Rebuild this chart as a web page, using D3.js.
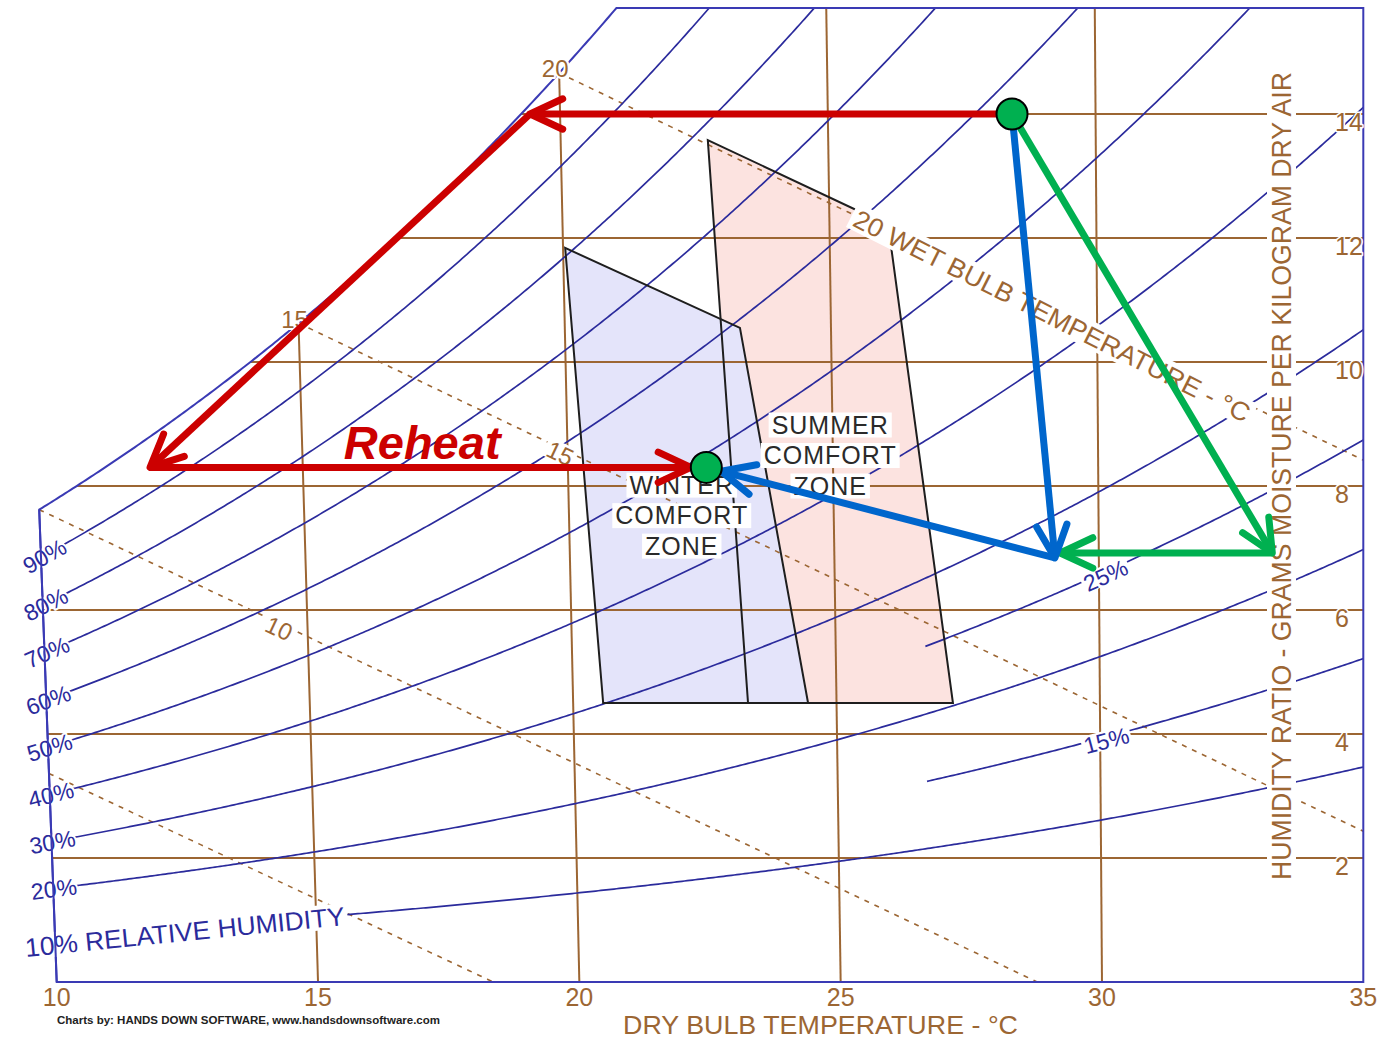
<!DOCTYPE html>
<html><head><meta charset="utf-8">
<script src="https://cdn.jsdelivr.net/npm/d3@7"></script>
<style>body{margin:0;background:#fff}svg{display:block}</style>
</head><body>
<svg id="c" width="1380" height="1041"></svg>
<script>
// ---------------- data ----------------
const dryBulbTicks = [10, 15, 20, 25, 30, 35];
const dryBulbLines = [15, 20, 25, 30];
const humidityTicks = [2, 4, 6, 8, 10, 12, 14];
const rhFull = [0.2, 0.3, 0.4, 0.5, 0.6, 0.7, 0.8, 0.9];
const rhFullLabels = ["20%", "30%", "40%", "50%", "60%", "70%", "80%", "90%"];
const rhTen = 0.10;
const rhTenLabel = "10% RELATIVE HUMIDITY";
const rhPartial = [0.15, 0.25];
const rhPartialLabels = ["15%", "25%"];
const rhPartialStartT = 26.7;
const rhPartialLabelT = 30.1;
const wetBulbs = [5, 10, 15, 20];
const wetBulbSatLabels = [15, 20];
const wetBulbMidLabels = [10, 15];
const wetBulbMidLabelT = [14.5, 19.9];
const wetBulbTitle = "20 WET BULB TEMPERATURE - °C";
const wetBulbTitleT = 25.5;
// comfort zones (dry bulb °C, humidity ratio g/kg)
const summerZone = [[22.75, 13.58], [26.10, 12.21], [27.21, 4.5], [23.32, 4.5]];
const winterZone = [[20.04, 11.84], [23.29, 10.55], [24.46, 4.5], [20.57, 4.5]];
const summerLabel = ["SUMMER", "COMFORT", "ZONE"];
const winterLabel = ["WINTER", "COMFORT", "ZONE"];
const summerLabelAt = [24.95, 8.5];
const winterLabelAt = [22.13, 7.53];
// process states
const stateOutdoor = [28.44, 14.0];
const stateRoom = [22.61, 8.3];
const redPath = [stateOutdoor, [19.44, 14.0], [12.12, 8.3], stateRoom];
const bluePath = [stateOutdoor, [29.17, 6.84], stateRoom];
const greenPath = [stateOutdoor, [33.28, 6.92], [29.27, 6.92]];
const reheatLabel = "Reheat";

// ---------------- psychrometrics ----------------
const P = 101.325;
const ps = T => 0.61094 * Math.exp(17.625 * T / (T + 243.04));
const Wrh = (T, rh) => 622 * rh * ps(T) / (P - rh * ps(T));
const Wwb = (T, Twb) => 1000 * ((2501 - 2.326 * Twb) * (Wrh(Twb, 1) / 1000) - 1.006 * (T - Twb)) / (2501 + 1.86 * T - 4.186 * Twb);
function tSat(W) { let lo = -10, hi = 45; for (let i = 0; i < 60; i++) { const m = (lo + hi) / 2; if (Wrh(m, 1) < W) lo = m; else hi = m; } return (lo + hi) / 2; }

// ---------------- scales ----------------
const X = d3.scaleLinear().domain([10, 35]).range([56.7, 1363.3]);
const Y = d3.scaleLinear().domain([0, 14]).range([982, 114]);
const K = 0.00148;
const pt = (T, W) => { const y = Y(W); return [X(T) - K * (35 - T) * (Y(0) - y), y]; };
const Wtop = Y.invert(8);
const Ttop = tSat(Wtop);
const sample = (t0, t1, f, step = 0.05) => { const a = []; for (let t = t0; t < t1; t += step) a.push(pt(t, f(t))); a.push(pt(t1, f(t1))); return a; };
const angleAt = (t, f) => { const a = pt(t - 0.2, f(t - 0.2)), b = pt(t + 0.2, f(t + 0.2)); return Math.atan2(b[1] - a[1], b[0] - a[0]) * 180 / Math.PI; };

const BROWN = "#9c6633", NAVY = "#2b2b9c", FRAME = "#3a3ab4", FONT = "'Liberation Sans', Arial, sans-serif";
const svg = d3.select("#c");
const line = d3.line();

// frame / clip
const satPts = sample(10, Ttop, t => Wrh(t, 1));
const framePts = [pt(10, 0), pt(35, 0), pt(35, Wtop), ...satPts.slice().reverse()];
svg.append("defs").append("clipPath").attr("id", "clip").append("path").attr("d", line(framePts) + "Z");

// zone fills
const zones = svg.append("g");
zones.append("path").attr("d", line(summerZone.map(d => pt(d[0], d[1]))) + "Z").attr("fill", "#fce3e0");
zones.append("path").attr("d", line(winterZone.map(d => pt(d[0], d[1]))) + "Z").attr("fill", "#e4e4fa");

const grid = svg.append("g").attr("clip-path", "url(#clip)").attr("fill", "none");
dryBulbLines.forEach(T => {
  grid.append("path").attr("d", line([pt(T, 0), pt(T, Math.min(Wtop, Wrh(T, 1)))])).attr("stroke", BROWN).attr("stroke-width", 2);
});
humidityTicks.forEach(W => {
  grid.append("path").attr("d", line([pt(Math.max(10, tSat(W)), W), pt(35, W)])).attr("stroke", BROWN).attr("stroke-width", 2);
});
wetBulbs.forEach(wb => {
  grid.append("path").attr("d", line(sample(Math.max(10, wb), 35, t => Wwb(t, wb))))
    .attr("stroke", BROWN).attr("stroke-width", 1.6).attr("stroke-dasharray", "5,6");
});
rhFull.forEach(rh => {
  grid.append("path").attr("d", line(sample(10.45, 35, t => Wrh(t, rh)))).attr("stroke", NAVY).attr("stroke-width", 1.7);
});
grid.append("path").attr("d", line(sample(15.6, 35, t => Wrh(t, rhTen)))).attr("stroke", NAVY).attr("stroke-width", 1.7);
rhPartial.forEach(rh => {
  grid.append("path").attr("d", line(sample(rhPartialStartT, 35, t => Wrh(t, rh)))).attr("stroke", NAVY).attr("stroke-width", 1.7);
});

// zone outlines
[summerZone, winterZone].forEach(z => {
  svg.append("path").attr("d", line(z.map(d => pt(d[0], d[1]))) + "Z").attr("fill", "none").attr("stroke", "#1e1e1e").attr("stroke-width", 2);
});

// frame
svg.append("path").attr("d", line(framePts) + "Z").attr("fill", "none").attr("stroke", FRAME).attr("stroke-width", 2);

// ---------------- labels ----------------
const halo = (sel, w) => sel.attr("stroke", "#fff").attr("stroke-width", w).attr("paint-order", "stroke").attr("stroke-linejoin", "round");
function boxed(transform, build, padX, padTop, padBot) {
  const g = svg.append("g").attr("transform", transform).attr("font-family", FONT);
  const t = build(g.append("text"));
  const b = t.node().getBBox();
  g.insert("rect", "text").attr("x", b.x - padX).attr("y", b.y + padTop).attr("width", b.width + 2 * padX)
    .attr("height", b.height - padTop - padBot).attr("fill", "#fff");
  return g;
}
const lab = svg.append("g").attr("font-family", FONT);

wetBulbSatLabels.forEach(wb => {
  const p = pt(wb, Wrh(wb, 1));
  halo(lab.append("text").attr("x", p[0] - 4).attr("y", p[1] - 4).attr("dy", "0.35em").attr("text-anchor", "middle")
    .attr("font-size", 24).attr("fill", BROWN).text(wb), 4);
});
wetBulbMidLabels.forEach((wb, i) => {
  const t = wetBulbMidLabelT[i], f = tt => Wwb(tt, wb), p = pt(t, f(t));
  boxed(`translate(${p[0]},${p[1]}) rotate(${angleAt(t, f)})`, s => s.attr("dy", "0.55em").attr("text-anchor", "middle")
    .attr("font-size", 24).attr("fill", BROWN).text(wb), 3, 3, 4);
});
{
  const f = tt => Wwb(tt, 20), p = pt(wetBulbTitleT, f(wetBulbTitleT));
  boxed(`translate(${p[0]},${p[1]}) rotate(${angleAt(wetBulbTitleT, f) + 1})`, s => s.attr("dy", "0.4em")
    .attr("font-size", 26).attr("fill", BROWN).attr("textLength", 440).attr("lengthAdjust", "spacingAndGlyphs").text(wetBulbTitle), 4, 1, 2);
}

rhFull.forEach((rh, i) => {
  const f = t => Wrh(t, rh), p = pt(10.45, f(10.45));
  halo(lab.append("text").attr("transform", `translate(${p[0]},${p[1]}) rotate(${angleAt(10.45, f)})`).attr("dy", "0.38em")
    .attr("text-anchor", "end").attr("font-size", 23).attr("fill", NAVY).text(rhFullLabels[i]), 4);
});
{
  const f = t => Wrh(t, rhTen), p = pt(15.6, f(15.6));
  boxed(`translate(${p[0] - 3},${p[1]}) rotate(${angleAt(15.6, f) - 1})`, s => s.attr("dy", "0.4em")
    .attr("text-anchor", "end").attr("font-size", 26).attr("fill", NAVY).attr("textLength", 321).attr("lengthAdjust", "spacingAndGlyphs").text(rhTenLabel), 2, 2, 3);
}
rhPartial.forEach((rh, i) => {
  const f = t => Wrh(t, rh), p = pt(rhPartialLabelT, f(rhPartialLabelT));
  boxed(`translate(${p[0]},${p[1]}) rotate(${angleAt(rhPartialLabelT, f)})`, s => s.attr("dy", "0.5em")
    .attr("text-anchor", "middle").attr("font-size", 23).attr("fill", NAVY).text(rhPartialLabels[i]), 2, 3, 4);
});

// left border over labels
svg.append("path").attr("d", line([pt(10, 0), pt(10, Wrh(10, 1))])).attr("stroke", FRAME).attr("stroke-width", 2);

// axes
dryBulbTicks.forEach(T => {
  lab.append("text").attr("x", X(T)).attr("y", 1006).attr("text-anchor", "middle").attr("font-size", 25).attr("fill", BROWN).text(T);
});
humidityTicks.forEach(W => {
  halo(lab.append("text").attr("x", 1335).attr("y", Y(W) + 17).attr("font-size", 25).attr("fill", BROWN).text(W), 3);
});
lab.append("text").attr("x", 820.5).attr("y", 1034).attr("text-anchor", "middle").attr("font-size", 25).attr("fill", BROWN)
  .attr("textLength", 395).attr("lengthAdjust", "spacingAndGlyphs").text("DRY BULB TEMPERATURE - °C");
boxed("translate(1291,476) rotate(-90)", s => s.attr("text-anchor", "middle").attr("font-size", 28).attr("fill", BROWN)
  .attr("textLength", 808).attr("lengthAdjust", "spacingAndGlyphs").text("HUMIDITY RATIO - GRAMS MOISTURE PER KILOGRAM DRY AIR"), 3, 1, 1);
lab.append("text").attr("x", 57).attr("y", 1024).attr("font-size", 10).attr("font-weight", "bold").attr("fill", "#222")
  .attr("textLength", 383).attr("lengthAdjust", "spacingAndGlyphs").text("Charts by: HANDS DOWN SOFTWARE, www.handsdownsoftware.com");

// zone labels with white boxes
function zoneLabel(lines, at) {
  const c = pt(at[0], at[1]);
  const g = svg.append("g").attr("font-family", FONT);
  lines.forEach((s, i) => {
    const t = g.append("text").attr("x", c[0]).attr("y", c[1] + (i - 1) * 30.5).attr("dy", "0.36em").attr("text-anchor", "middle")
      .attr("font-size", 25).attr("letter-spacing", 1).attr("fill", "#2a2a2a").text(s);
    const b = t.node().getBBox();
    g.insert("rect", "text").attr("x", b.x - 3).attr("y", b.y + 2).attr("width", b.width + 6).attr("height", b.height - 3).attr("fill", "#fff");
  });
}
zoneLabel(summerLabel, summerLabelAt);
zoneLabel(winterLabel, winterLabelAt);

// ---------------- process arrows ----------------
const R = 15.5;
const ann = svg.append("g");
function arrow(a, b, color, shortEnd) {
  const [x0, y0] = pt(a[0], a[1]), [x1, y1] = pt(b[0], b[1]);
  const ang = Math.atan2(y1 - y0, x1 - x0), c = Math.cos(ang), s = Math.sin(ang);
  const ex = x1 - shortEnd * c, ey = y1 - shortEnd * s;
  ann.append("line").attr("x1", x0).attr("y1", y0).attr("x2", ex - 3 * c).attr("y2", ey - 3 * s)
    .attr("stroke", color).attr("stroke-width", 7);
  const L = 36, sp = 25 * Math.PI / 180;
  const p1 = [ex - L * Math.cos(ang - sp), ey - L * Math.sin(ang - sp)];
  const p2 = [ex - L * Math.cos(ang + sp), ey - L * Math.sin(ang + sp)];
  ann.append("path").attr("d", `M${p1[0]},${p1[1]}L${ex},${ey}L${p2[0]},${p2[1]}`).attr("fill", "none")
    .attr("stroke", color).attr("stroke-width", 7).attr("stroke-linecap", "round").attr("stroke-linejoin", "round");
}
function pathArrows(path, color) {
  for (let i = 0; i < path.length - 1; i++) arrow(path[i], path[i + 1], color, path[i + 1] === stateRoom ? R : 0);
}
pathArrows(redPath, "#cc0000");
pathArrows(greenPath, "#00b050");
pathArrows(bluePath, "#0066cc");
{
  const a = pt(redPath[2][0], redPath[2][1]), b = pt(stateRoom[0], stateRoom[1]);
  ann.append("text").attr("x", (a[0] + b[0]) / 2 - 6).attr("y", a[1] - 8).attr("text-anchor", "middle")
    .attr("font-family", FONT).attr("font-size", 47).attr("font-weight", "bold").attr("font-style", "italic")
    .attr("fill", "#cc0000").text(reheatLabel);
}
[stateOutdoor, stateRoom].forEach(s => {
  const p = pt(s[0], s[1]);
  ann.append("circle").attr("cx", p[0]).attr("cy", p[1]).attr("r", R).attr("fill", "#00b050").attr("stroke", "#000").attr("stroke-width", 2);
});
</script>
</body></html>
